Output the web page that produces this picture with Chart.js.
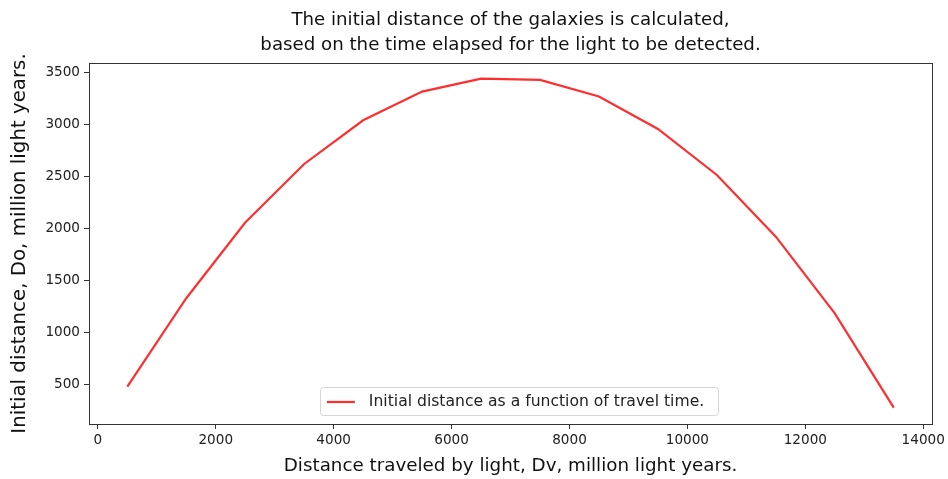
<!DOCTYPE html>
<html>
<head>
<meta charset="utf-8">
<script src="https://cdn.jsdelivr.net/npm/chart.js@4.4.1/dist/chart.umd.min.js"></script>
<style>
  html, body { margin: 0; padding: 0; background: #fff; }
  #wrap { width: 948px; height: 479px; }
</style>
</head>
<body>
<div id="wrap"><canvas id="c" width="948" height="479"></canvas></div>
<script>
// ---- data ----
const travelDist = [500, 1500, 2500, 3500, 4500, 5500, 6500, 7500, 8500, 9500, 10500, 11500, 12500, 13500];
const initialDist = [481, 1330, 2058, 2620, 3040, 3315, 3440, 3428, 3268, 2956, 2514, 1922, 1184, 279];
const xTicks = [0, 2000, 4000, 6000, 8000, 10000, 12000, 14000];
const yTicks = [500, 1000, 1500, 2000, 2500, 3000, 3500];
const seriesLabel = 'Initial distance as a function of travel time.';
const titleLines = ['The initial distance of the galaxies is calculated,', 'based on the time elapsed for the light to be detected.'];
const xTitle = 'Distance traveled by light, Dv, million light years.';
const yTitle = 'Initial distance, Do, million light years.';

const FONT = "'DejaVu Sans', sans-serif";
const LINE_COLOR = 'rgba(255,0,0,0.82)';

// frame around the plot area (matplotlib spines)
const frame = {
  id: 'frame',
  afterDatasetsDraw(chart) {
    const { ctx, chartArea: a } = chart;
    ctx.save();
    ctx.strokeStyle = '#333';
    ctx.lineWidth = 1;
    ctx.strokeRect(Math.round(a.left) + 0.5, Math.round(a.top) + 0.5,
      Math.round(a.right - a.left), Math.round(a.bottom - a.top));
    ctx.restore();
  }
};

// legend inside the plot, lower centre
const innerLegend = {
  id: 'innerLegend',
  afterDraw(chart) {
    const { ctx, chartArea: a } = chart;
    const ds = chart.data.datasets[0];
    ctx.save();
    ctx.font = '15.6px ' + FONT;
    const tw = ctx.measureText(ds.label).width;
    const w = 49 + tw + 14;
    const h = 28;
    const x = (a.left + a.right) / 2 - w / 2 + 8.5;
    const y = a.bottom - 9 - h;
    ctx.fillStyle = 'rgba(255,255,255,0.8)';
    ctx.strokeStyle = '#d6d6d6';
    ctx.lineWidth = 1;
    ctx.beginPath();
    ctx.roundRect(Math.round(x) + 0.5, Math.round(y) + 0.5, Math.round(w), h, 3);
    ctx.fill();
    ctx.stroke();
    ctx.strokeStyle = ds.borderColor;
    ctx.lineWidth = 2.2;
    ctx.beginPath();
    ctx.moveTo(x + 7, y + h / 2 + 1);
    ctx.lineTo(x + 35, y + h / 2 + 1);
    ctx.stroke();
    ctx.fillStyle = '#222';
    ctx.textBaseline = 'middle';
    ctx.fillText(ds.label, x + 49, y + h / 2 + 1);
    ctx.restore();
  }
};

new Chart(document.getElementById('c'), {
  type: 'line',
  data: {
    datasets: [{
      label: seriesLabel,
      data: travelDist.map((v, i) => ({ x: v, y: initialDist[i] })),
      borderColor: LINE_COLOR,
      borderWidth: 2.2,
      pointRadius: 0,
      tension: 0,
      fill: false
    }]
  },
  options: {
    responsive: false,
    animation: false,
    layout: { padding: { top: 0, right: 14, bottom: 0, left: 0 } },
    plugins: {
      legend: { display: false },
      tooltip: { enabled: false },
      title: {
        display: true,
        fullSize: false,
        text: titleLines,
        color: '#111',
        font: { family: FONT, size: 18.2, weight: 'normal', lineHeight: '25px' },
        padding: { top: 8, bottom: 5 }
      }
    },
    scales: {
      x: {
        type: 'linear',
        min: -150, max: 14150,
        afterBuildTicks: s => { s.ticks = xTicks.map(v => ({ value: v })); },
        afterFit: s => { s.height = 55; },
        grid: { drawOnChartArea: false, drawTicks: true, tickLength: 5, color: '#333' },
        border: { display: false },
        ticks: { color: '#222', font: { family: FONT, size: 13.6 }, padding: 3, maxRotation: 0, callback: v => String(v) },
        title: { display: true, text: xTitle, color: '#111', font: { family: FONT, size: 18.3 }, padding: { top: 0, bottom: 2 } }
      },
      y: {
        min: 122, max: 3590,
        afterBuildTicks: s => { s.ticks = yTicks.map(v => ({ value: v })); },
        afterFit: s => { s.width = 89; },
        grid: { drawOnChartArea: false, drawTicks: true, tickLength: 5, color: '#333' },
        border: { display: false },
        ticks: { color: '#222', font: { family: FONT, size: 13.6 }, padding: 4, callback: v => String(v) },
        title: { display: true, text: yTitle, color: '#111', font: { family: FONT, size: 19.8 }, padding: { top: 8, bottom: 0 } }
      }
    }
  },
  plugins: [frame, innerLegend]
});
</script>
</body>
</html>
